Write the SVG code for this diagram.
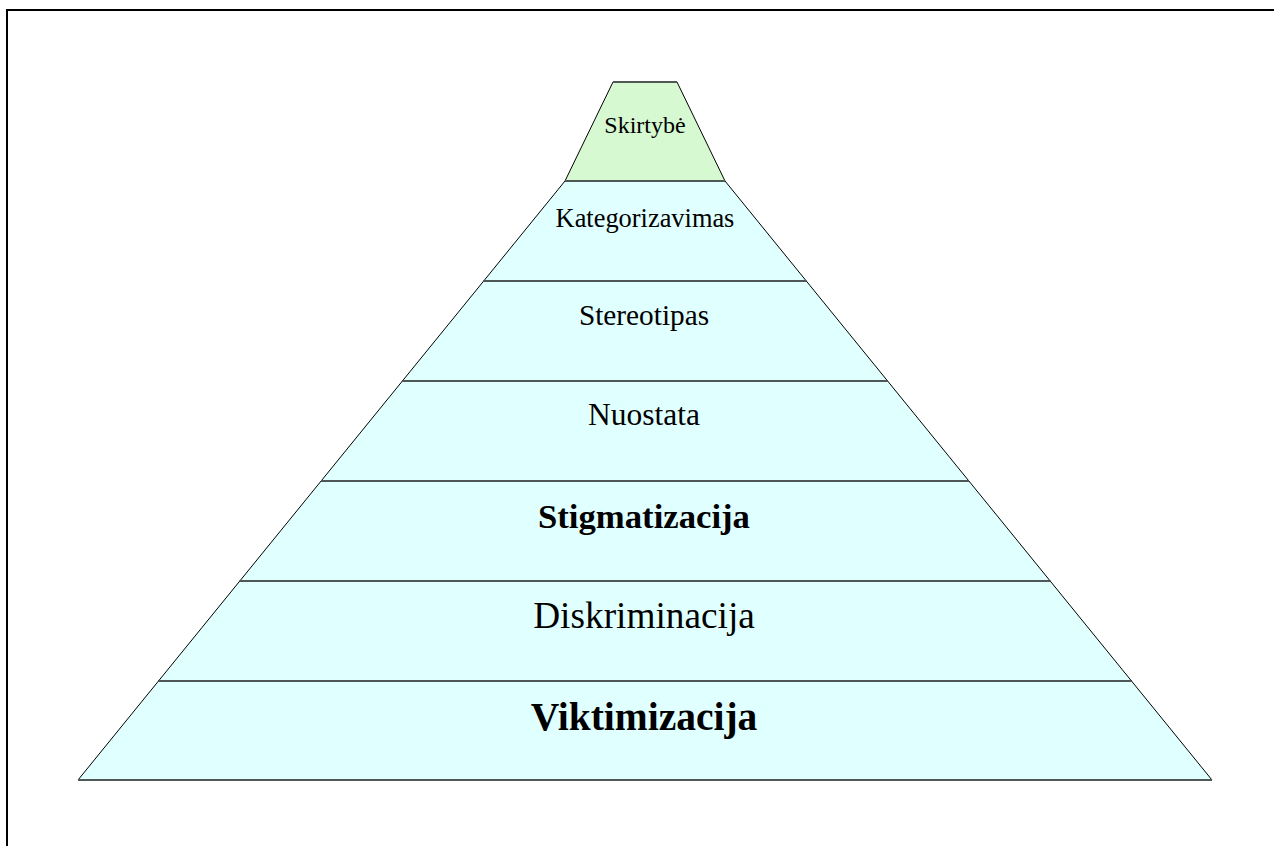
<svg xmlns="http://www.w3.org/2000/svg" width="1274" height="846" viewBox="0 0 1274 846">
<style>
.band{fill:#e0ffff;stroke:#000;stroke-width:1}
.top{fill:#d7f9d2;stroke:#000;stroke-width:1}
.sep{stroke:#4f5757;stroke-width:2}
text{font-family:"Liberation Serif","Times New Roman",serif;fill:#000;text-anchor:middle}
.b{font-weight:bold}
</style>
<rect width="1274" height="846" fill="#fff"/>
<path d="M7 846 V10 H1274" fill="none" stroke="#000" stroke-width="2"/>
<g id="skirtybe">
<polygon class="top" points="613,82 677,82 725,181 565,181"/>
<line class="sep" x1="613" y1="82" x2="677" y2="82"/>
<text x="645" y="133" font-size="24">Skirtybė</text>
</g>
<g id="kategorizavimas">
<polygon class="band" points="565,181 725,181 806.3,281 483.7,281"/>
<text x="645" y="227" font-size="26.4">Kategorizavimas</text>
</g>
<g id="stereotipas">
<polygon class="band" points="483.7,281 806.3,281 887.6,381 402.4,381"/>
<text x="644" y="325" font-size="29.3">Stereotipas</text>
</g>
<g id="nuostata">
<polygon class="band" points="402.4,381 887.6,381 968.9,481 321.1,481"/>
<text x="644" y="425" font-size="31.5">Nuostata</text>
</g>
<g id="stigmatizacija">
<polygon class="band" points="321.1,481 968.9,481 1050.2,581 239.8,581"/>
<text class="b" x="644" y="528" font-size="34.7">Stigmatizacija</text>
</g>
<g id="diskriminacija">
<polygon class="band" points="239.8,581 1050.2,581 1131.5,681 158.5,681"/>
<text x="644" y="628" font-size="37.3">Diskriminacija</text>
</g>
<g id="viktimizacija">
<polygon class="band" points="158.5,681 1131.5,681 1212,780 78,780"/>
<text class="b" x="644" y="730" font-size="39.5">Viktimizacija</text>
</g>
<g id="connectors">
<line class="sep" x1="565" y1="181" x2="725" y2="181"/>
<line class="sep" x1="483.7" y1="281" x2="806.3" y2="281"/>
<line class="sep" x1="402.4" y1="381" x2="887.6" y2="381"/>
<line class="sep" x1="321.1" y1="481" x2="968.9" y2="481"/>
<line class="sep" x1="239.8" y1="581" x2="1050.2" y2="581"/>
<line class="sep" x1="158.5" y1="681" x2="1131.5" y2="681"/>
<line class="sep" x1="78" y1="780" x2="1212" y2="780" stroke-width="1.5"/>
</g>
</svg>
